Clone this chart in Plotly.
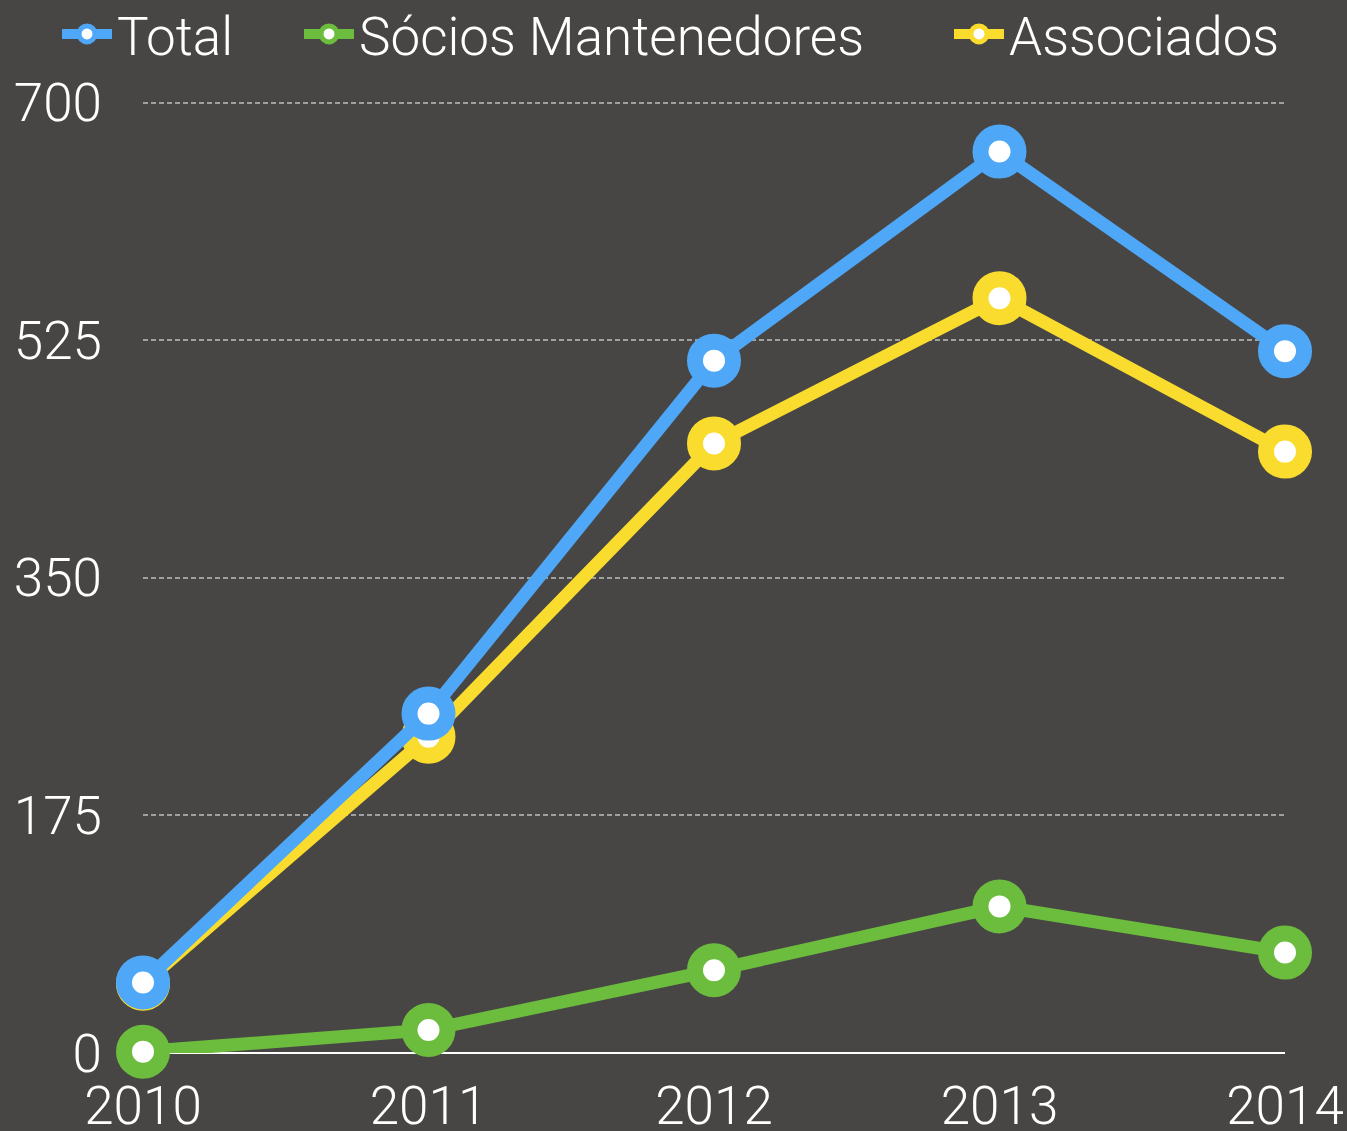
import plotly.graph_objects as go

years = [2010, 2011, 2012, 2013, 2014]
total = [52, 250, 510, 664, 517]
socios = [1, 17, 61, 108, 74]
associados = [51, 233, 449, 556, 443]
y_ticks = [0, 175, 350, 525, 700]

BG = "#484644"
FONT = "Roboto"
FS = 53

L, R, T, B = 143, 62, 100, 78
W, H = 1347, 1131

# (name, values, colour, legend id, legend left px)
series = [
    ("Associados", associados, "#F9DC2E", "legend3", 949),
    ("Sócios Mantenedores", socios, "#6CBD3E", "legend2", 299),
    ("Total", total, "#4FA7F7", "legend", 57),
]

fig = go.Figure()
for name, vals, col, lg, _ in series:
    fig.add_trace(go.Scatter(
        x=years, y=vals, name=name, mode="lines+markers",
        line=dict(color=col, width=13),
        marker=dict(size=38, color="white", line=dict(color=col, width=16)),
        cliponaxis=False, legend=lg,
    ))

layout_legends = {}
for name, vals, col, lg, left in series:
    layout_legends[lg] = dict(
        orientation="h", xref="container", x=left / W, xanchor="left",
        yref="container", y=1 - 34 / H, yanchor="middle",
        itemsizing="trace", itemwidth=50,
        font=dict(size=FS, color="white", family=FONT, weight=300),
        bgcolor="rgba(0,0,0,0)",
    )

fig.update_layout(
    width=W, height=H,
    paper_bgcolor=BG, plot_bgcolor=BG,
    margin=dict(l=L, r=R, t=T, b=B, autoexpand=False),
    font=dict(family=FONT, color="white", size=FS, weight=300),
    showlegend=True,
    xaxis=dict(
        range=[2010, 2014], tickvals=years, showgrid=False, zeroline=False,
        showline=False, ticks="", ticklabelstandoff=17, automargin=False,
        tickfont=dict(size=FS, color="white", family=FONT, weight=300),
    ),
    yaxis=dict(
        range=[0, 702], tickvals=y_ticks, showgrid=True,
        gridcolor="#a0a0a0", griddash="5px,3px", gridwidth=1.5,
        zeroline=True, zerolinecolor="white", zerolinewidth=2,
        showline=False, ticks="", ticklabelstandoff=40, automargin=False,
        tickfont=dict(size=FS, color="white", family=FONT, weight=300),
    ),
    **layout_legends,
)

fig.write_html("out.html")
